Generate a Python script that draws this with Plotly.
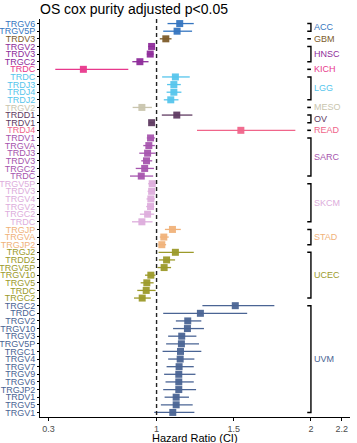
import plotly.graph_objects as go

genes = ["TRGV6", "TRGV5P", "TRDV3", "TRGV2", "TRDV3", "TRGC2", "TRDC", "TRDC", "TRDJ3", "TRDJ4",
         "TRDJ2", "TRGV2", "TRDD1", "TRDV1", "TRDJ4", "TRDV1", "TRGVA", "TRDJ3", "TRDV3", "TRGC2",
         "TRDC", "TRGV5P", "TRDV3", "TRGV4", "TRGV2", "TRGC2", "TRDC", "TRGJP", "TRGVA", "TRGJP2",
         "TRGJ2", "TRDD2", "TRGV5P", "TRGV10", "TRGV5", "TRDC", "TRGC2", "TRGC2", "TRDC", "TRGV2",
         "TRGV10", "TRGV3", "TRGV5P", "TRGC1", "TRGV4", "TRGV7", "TRGV9", "TRGV6", "TRGJP2", "TRDV1",
         "TRGV5", "TRGV1"]

cancer_names = ["ACC", "GBM", "HNSC", "KICH", "LGG", "MESO", "OV", "READ", "SARC", "SKCM", "STAD", "UCEC", "UVM"]
cancer_counts = [2, 1, 3, 1, 4, 1, 2, 1, 6, 6, 3, 7, 15]
cancer_colors = ["#3575C0", "#7D5C2A", "#8E2C9A", "#E8388C", "#56C5EC", "#C9C5AE", "#603B62",
                 "#F0658A", "#A655AE", "#DDADDC", "#F0B27A", "#9C9A2A", "#4A6494"]

hr = [1.150, 1.133, 1.060, 0.968, 0.959, 0.892, 0.526, 1.122, 1.112, 1.112,
      1.092, 0.905, 1.131, 0.968, 1.546, 0.961, 0.950, 0.942, 0.935, 0.923,
      0.901, 0.972, 0.968, 0.963, 0.961, 0.942, 0.905, 1.103, 1.047, 1.034,
      1.122, 1.065, 1.049, 0.963, 0.937, 0.933, 0.907, 1.510, 1.284, 1.202,
      1.200, 1.163, 1.161, 1.155, 1.153, 1.146, 1.144, 1.144, 1.144, 1.127,
      1.127, 1.105]
lo = [1.071, 1.043, 1.021, 0.946, 0.937, 0.843, 0.344, 1.036, 1.068, 1.065,
      1.047, 0.845, 1.034, 0.952, 1.262, 0.937, 0.914, 0.888, 0.901, 0.865,
      0.828, 0.946, 0.942, 0.935, 0.933, 0.892, 0.841, 1.054, 1.021, 1.013,
      1.013, 1.015, 1.006, 0.925, 0.897, 0.875, 0.854, 1.297, 1.043, 1.125,
      1.107, 1.075, 1.062, 1.039, 1.075, 1.065, 1.049, 1.058, 1.043, 1.052,
      1.028, 0.985]
hi = [1.241, 1.230, 1.097, 0.989, 0.981, 0.948, 0.817, 1.215, 1.157, 1.161,
      1.142, 0.970, 1.232, 0.985, 1.899, 0.989, 0.989, 0.994, 0.972, 0.983,
      0.978, 0.994, 0.991, 0.989, 0.985, 0.985, 0.974, 1.157, 1.079, 1.062,
      1.241, 1.120, 1.094, 0.993, 0.981, 0.994, 0.963, 1.763, 1.587, 1.290,
      1.307, 1.258, 1.275, 1.290, 1.245, 1.241, 1.252, 1.241, 1.256, 1.210,
      1.234, 1.245]

x_ticks = [0.3, 1, 1.5, 2, 2.2]

FONT = "Liberation Sans, Arial, Helvetica, sans-serif"

fig = go.Figure()

row_color = []
start = 0
bracket_x = 2.0
tick_len = 0.024
for name, cnt, col in zip(cancer_names, cancer_counts, cancer_colors):
    rows = list(range(start, start + cnt))
    row_color += [col] * cnt
    fig.add_trace(go.Scatter(
        x=[hr[i] for i in rows], y=rows, mode="markers",
        marker=dict(symbol="square", size=7, color=col, opacity=0.95, line=dict(width=0)),
        error_x=dict(type="data", symmetric=False,
                     array=[hi[i] - hr[i] for i in rows],
                     arrayminus=[hr[i] - lo[i] for i in rows],
                     color=col, thickness=1.3, width=0),
        showlegend=False, name=name))
    y0, y1 = rows[0], rows[-1]
    if cnt == 1:
        fig.add_shape(type="line", x0=bracket_x - tick_len, x1=bracket_x, y0=y0, y1=y0,
                      line=dict(color="black", width=1.6))
    else:
        fig.add_shape(type="path",
                      path=f"M {bracket_x - tick_len},{y0} L {bracket_x},{y0} L {bracket_x},{y1} L {bracket_x - tick_len},{y1}",
                      line=dict(color="black", width=1.4))
    fig.add_annotation(x=bracket_x + 0.01, y=(y0 + y1) / 2, text=name, showarrow=False,
                       xanchor="left", yanchor="middle",
                       font=dict(family=FONT, size=9, color=col))
    start += cnt

n = len(genes)
ticktext = [f"<span style='color:{c}'>{g}</span>" for g, c in zip(genes, row_color)]

fig.add_shape(type="line", x0=1, x1=1, y0=-0.6, y1=n - 0.4, yref="y",
              line=dict(color="#222222", width=1.4, dash="4px,3px"))

fig.add_annotation(x=0.5, xref="paper", y=0, yref="paper", yshift=-20.5, yanchor="middle",
                   xanchor="center", text="Hazard Ratio (CI)", showarrow=False,
                   font=dict(family=FONT, size=11, color="black"))

fig.update_layout(
    width=357, height=443,
    margin=dict(l=40, r=7, t=19, b=26),
    plot_bgcolor="white", paper_bgcolor="white",
    title=dict(text="OS cox purity adjusted p<0.05", x=40 / 357, xref="container", xanchor="left",
               y=1 - 4 / 443, yref="container", yanchor="top",
               font=dict(family=FONT, size=14, color="black")),
    xaxis=dict(range=[0.245, 2.253], tickvals=x_ticks, ticktext=[str(v) for v in x_ticks],
               showgrid=False, zeroline=False, showline=True, linecolor="black", linewidth=1,
               ticks="outside", ticklen=3, tickcolor="black", automargin=False,
               ticklabelstandoff=0,
               tickfont=dict(family=FONT, size=9, color="#4d4d4d")),
    yaxis=dict(range=[n - 0.4, -0.6], tickvals=list(range(n)), ticktext=ticktext,
               showgrid=False, zeroline=False, showline=True, linecolor="black", linewidth=1,
               ticks="outside", ticklen=2, tickcolor="black", automargin=False,
               tickfont=dict(family=FONT, size=9)),
)

fig.write_html("out.html", config={"displayModeBar": False},
               post_script="document.body.style.margin='0';")
